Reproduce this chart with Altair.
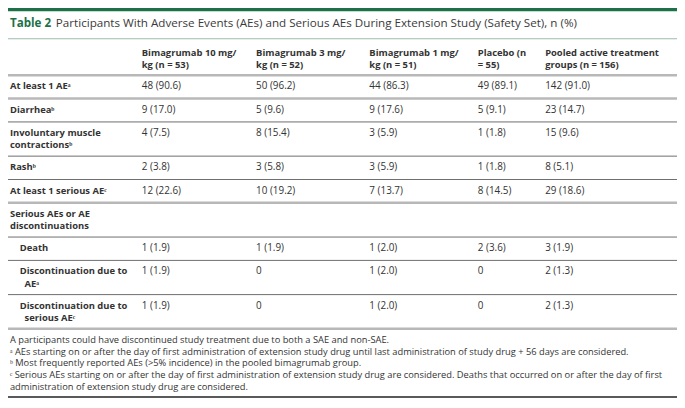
import altair as alt
import pandas as pd

# ---------------- data ----------------
title_tag = "Table 2"
title_text = "Participants With Adverse Events (AEs) and Serious AEs During Extension Study (Safety Set), n (%)"

col_headers = [
    ["Bimagrumab 10 mg/", "kg (n = 53)"],
    ["Bimagrumab 3 mg/", "kg (n = 52)"],
    ["Bimagrumab 1 mg/", "kg (n = 51)"],
    ["Placebo (n", "= 55)"],
    ["Pooled active treatment", "groups (n = 156)"],
]

row_labels = [
    ["At least 1 AEᵃ"],
    ["Diarrheaᵇ"],
    ["Involuntary muscle", "contractionsᵇ"],
    ["Rashᵇ"],
    ["At least 1 serious AEᶜ"],
    ["Serious AEs or AE", "discontinuations"],
    ["Death"],
    ["Discontinuation due to", "AEᵃ"],
    ["Discontinuation due to", "serious AEᶜ"],
]
row_indent = [0, 0, 0, 0, 0, 0, 1, 1, 1]

bim10 = ["48 (90.6)", "9 (17.0)", "4 (7.5)", "2 (3.8)", "12 (22.6)", "", "1 (1.9)", "1 (1.9)", "1 (1.9)"]
bim3 = ["50 (96.2)", "5 (9.6)", "8 (15.4)", "3 (5.8)", "10 (19.2)", "", "1 (1.9)", "0", "0"]
bim1 = ["44 (86.3)", "9 (17.6)", "3 (5.9)", "3 (5.9)", "7 (13.7)", "", "1 (2.0)", "1 (2.0)", "1 (2.0)"]
placebo = ["49 (89.1)", "5 (9.1)", "1 (1.8)", "1 (1.8)", "8 (14.5)", "", "2 (3.6)", "0", "0"]
pooled = ["142 (91.0)", "23 (14.7)", "15 (9.6)", "8 (5.1)", "29 (18.6)", "", "3 (1.9)", "2 (1.3)", "2 (1.3)"]
columns = [bim10, bim3, bim1, placebo, pooled]

footnotes = [
    "A participants could have discontinued study treatment due to both a SAE and non-SAE.",
    "ᵃ AEs starting on or after the day of first administration of extension study drug until last administration of study drug + 56 days are considered.",
    "ᵇ Most frequently reported AEs (>5% incidence) in the pooled bimagrumab group.",
    "ᶜ Serious AEs starting on or after the day of first administration of extension study drug are considered. Deaths that occurred on or after the day of first",
    "administration of extension study drug are considered.",
]

# ---------------- layout (reference pixel space) ----------------
REF_W, REF_H = 685, 408
W, H = 669, 392
k = 0.97
FONT = "Open Sans"
TXT = "#333333"
GREEN = "#1d7048"

label_x = 2
indent_x = 12
cont_x = 17
col_x = [137, 254, 370, 481, 550]
header_bottom = 70
line_gap = 12.6
rule_style = ["thick", "thin", "thin", "thin", "thick", "thin", "thin", "thin", "thick"]

xs = alt.Scale(domain=[0, REF_W], nice=False, zero=False)
ys = alt.Scale(domain=[0, REF_H], nice=False, zero=False, reverse=True)

bold_rows, reg_rows, rules = [], [], []

# header
for ci, hdr in enumerate(col_headers):
    for li, t in enumerate(hdr):
        bold_rows.append({"x": col_x[ci], "y": 46.5 + li * line_gap, "text": t})
rules.append({"x": 0, "x2": REF_W, "y": header_bottom, "style": "thick"})

# body
top = header_bottom
for ri, lines in enumerate(row_labels):
    n = len(lines)
    h = 13 + 11.3 * n
    for li, t in enumerate(lines):
        if row_indent[ri]:
            x = indent_x if li == 0 else cont_x
        else:
            x = label_x
        bold_rows.append({"x": x, "y": top + 11.5 + li * line_gap, "text": t})
    for ci, col in enumerate(columns):
        if col[ri]:
            reg_rows.append({"x": col_x[ci], "y": top + 11.5, "text": col[ri]})
    top += h
    rules.append({"x": 0, "x2": REF_W, "y": top, "style": rule_style[ri]})

table_bottom = top
foot_rows = []
for fi, t in enumerate(footnotes):
    foot_rows.append({"x": 2, "y": table_bottom + 11.5 + fi * 12.3, "text": t})

bold_df = pd.DataFrame(bold_rows)
reg_df = pd.DataFrame(reg_rows)
foot_df = pd.DataFrame(foot_rows)
rules_df = pd.DataFrame(rules)
title_df = pd.DataFrame([{"x": 2, "y": 17, "text": title_tag}])
title2_df = pd.DataFrame([{"x": 49, "y": 17, "text": title_text}])
frame_df = pd.DataFrame([
    {"x": 0, "x2": REF_W, "y": 1.5, "kind": "top"},
    {"x": 0, "x2": REF_W, "y": 32, "kind": "under"},
    {"x": 0, "x2": REF_W, "y": 405, "kind": "bottom"},
])


def enc_text(df, size, weight="normal", color=TXT):
    return alt.Chart(df).mark_text(
        align="left", baseline="middle", font=FONT, fontSize=size,
        fontWeight=weight, color=color,
    ).encode(
        x=alt.X("x:Q", scale=xs, axis=None),
        y=alt.Y("y:Q", scale=ys, axis=None),
        text="text:N",
    )


def enc_rule(df, color, width):
    return alt.Chart(df).mark_rule(color=color, strokeWidth=width).encode(
        x=alt.X("x:Q", scale=xs, axis=None),
        x2="x2:Q",
        y=alt.Y("y:Q", scale=ys, axis=None),
    )


layers = [
    enc_rule(frame_df[frame_df.kind == "top"], GREEN, 3.5),
    enc_rule(frame_df[frame_df.kind == "under"], "#9dbdab", 1.2),
    enc_rule(frame_df[frame_df.kind == "bottom"], "#222222", 1.5),
    enc_rule(rules_df[rules_df["style"] == "thick"], "#b8b8b8", 2.5),
    enc_rule(rules_df[rules_df["style"] == "thin"], "#6f6f6f", 1),
    enc_text(title_df, 12 * k, "bold", GREEN),
    enc_text(title2_df, 12 * k, "normal", "#3a3a3a"),
    enc_text(bold_df, 9.7 * k, "bold"),
    enc_text(reg_df, 10.2 * k, "normal"),
    enc_text(foot_df, 9.6 * k, "normal"),
]

chart = alt.layer(*layers).properties(
    width=W, height=H, padding=0, autosize="none",
    background="white",
).configure_view(stroke=None)

chart.save("out.html", embed_options={"renderer": "svg", "actions": False})
